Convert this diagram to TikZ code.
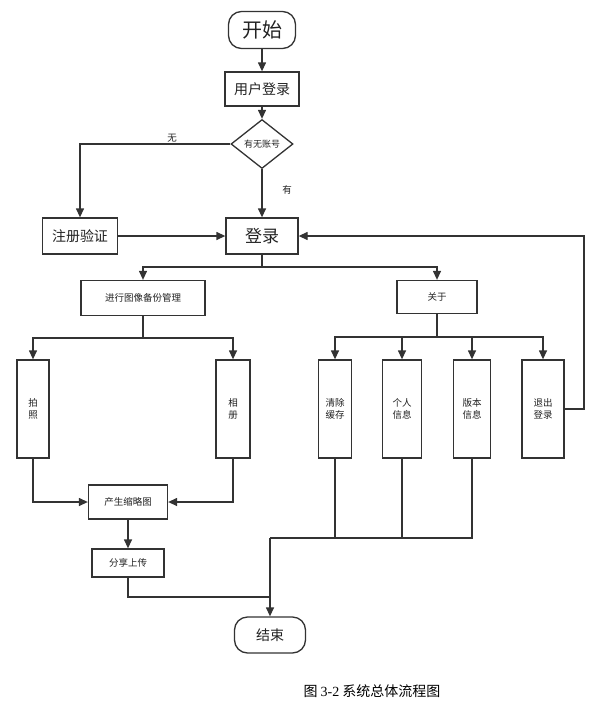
\documentclass[tikz,border=0pt]{standalone}
\usepackage{fontspec}
\setmainfont{Noto Sans CJK SC}
\newfontfamily\capnum{Liberation Serif}
\usetikzlibrary{arrows.meta,shapes.geometric}
\definecolor{lc}{HTML}{333333}
\definecolor{tc}{HTML}{222222}
\tikzset{
  box/.style={draw=lc, line width=1.3pt, fill=white, inner sep=0pt, align=center, text=tc},
  term/.style={box, rounded corners=13pt},
  ln/.style={draw=lc, line width=1.3pt},
  arr/.style={ln, -{Triangle[length=9pt,width=8pt]}},
  sm/.style={font=\fontsize{9.5}{12}\selectfont},
}
\begin{document}
\begin{tikzpicture}[x=1pt,y=-1pt]
\useasboundingbox (0,0) rectangle (609,718);
\node[term, minimum width=67pt, minimum height=37pt, font=\fontsize{20}{22}\selectfont] (start) at (262,30) {开始};
\node[box, minimum width=74pt, minimum height=34pt, font=\fontsize{14}{16}\selectfont] (ulogin) at (262,89) {用户登录};
\node[box, diamond, minimum width=62pt, minimum height=49pt, font=\fontsize{9}{11}\selectfont] (dia) at (262,144) {有无账号};
\node[box, minimum width=75pt, minimum height=36pt, font=\fontsize{14}{16}\selectfont] (reg) at (80,236) {注册验证};
\node[box, minimum width=72pt, minimum height=36pt, font=\fontsize{17}{19}\selectfont] (login) at (262,236) {登录};
\node[box, minimum width=124pt, minimum height=35pt, sm] (mgmt) at (143,298) {进行图像备份管理};
\node[box, minimum width=80pt, minimum height=33pt, sm] (about) at (437,297) {关于};
\node[box, minimum width=32pt, minimum height=98pt, sm] (photo) at (33,409) {拍\\照};
\node[box, minimum width=34pt, minimum height=98pt, sm] (album) at (233,409) {相\\册};
\node[box, minimum width=33pt, minimum height=98pt, sm] (clear) at (335,409) {清除\\缓存};
\node[box, minimum width=39pt, minimum height=98pt, sm] (person) at (402,409) {个人\\信息};
\node[box, minimum width=37pt, minimum height=98pt, sm] (ver) at (472,409) {版本\\信息};
\node[box, minimum width=42pt, minimum height=98pt, sm] (quit) at (543,409) {退出\\登录};
\node[box, minimum width=79pt, minimum height=34pt, sm] (thumb) at (128,502) {产生缩略图};
\node[box, minimum width=72pt, minimum height=28pt, sm] (share) at (128,563) {分享上传};
\node[term, minimum width=71pt, minimum height=36pt, font=\fontsize{14}{16}\selectfont] (end) at (270,635) {结束};
\node[font=\fontsize{14}{16}\selectfont, text=black] (cap) at (372,691) {图 {\capnum 3-2}\ 系统总体流程图};
\node[sm, text=tc] (lno) at (172,138) {无};
\node[sm, text=tc] (lyes) at (287,190) {有};
% coordinates
\coordinate (rb) at (584,409);
\coordinate (s1) at (262,267);
\coordinate (s2) at (143,338);
\coordinate (s3) at (437,337);
\coordinate (j) at (270,538);
\coordinate (m) at (270,597);
% connectors
\draw[arr] (start) -- (ulogin);
\draw[arr] (ulogin) -- (dia);
\draw[arr] (dia.west) -| (reg.north);
\draw[arr] (dia.south) -- (login.north);
\draw[arr] (reg) -- (login);
\draw[arr] (quit.east) -- (rb) |- (login.east);
\draw[ln] (login.south) -- (s1);
\draw[arr] (s1) -| (mgmt.north);
\draw[arr] (s1) -| (about.north);
\draw[ln] (mgmt.south) -- (s2);
\draw[arr] (s2) -| (photo.north);
\draw[arr] (s2) -| (album.north);
\draw[ln] (about.south) -- (s3);
\draw[arr] (s3) -| (clear.north);
\draw[arr] (s3) -| (person.north);
\draw[arr] (s3) -| (ver.north);
\draw[arr] (s3) -| (quit.north);
\draw[arr] (photo.south) |- (thumb.west);
\draw[arr] (album.south) |- (thumb.east);
\draw[arr] (thumb) -- (share);
\draw[ln] (clear.south) |- (j);
\draw[ln] (person.south) |- (j);
\draw[ln] (ver.south) |- (j);
\draw[arr] (j) -- (end.north);
\draw[ln] (share.south) |- (m);
\end{tikzpicture}
\end{document}
